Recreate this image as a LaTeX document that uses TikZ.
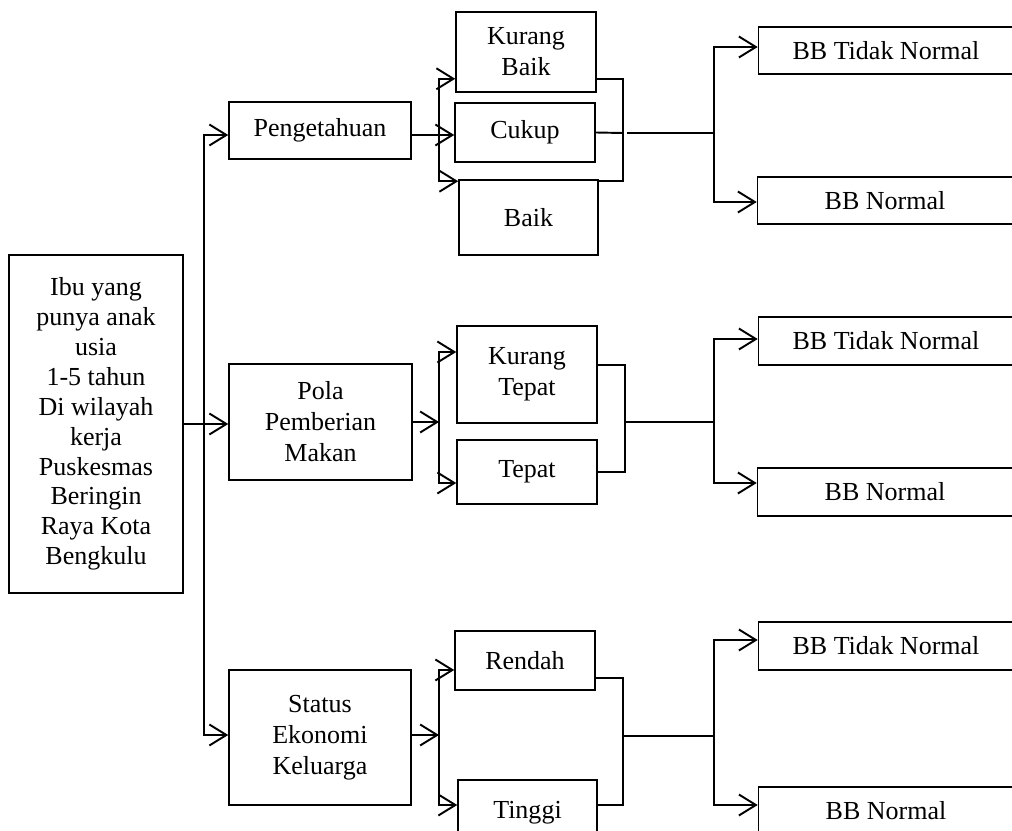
\documentclass[tikz,border=0pt]{standalone}
\usepackage{fontspec}
\setmainfont{Liberation Serif}
\usetikzlibrary{arrows.meta}
\tikzset{
  kotak/.style={draw, line width=0.9pt, align=center, inner sep=0pt, font=\fontsize{14.8}{17.6}\selectfont},
  hasil/.style={kotak, minimum width=5.1cm, minimum height=0.95cm},
}
\begin{document}
\begin{tikzpicture}[x=0.02cm, y=-0.02cm, line width=1.1pt, >={Straight Barb[length=3.4mm,width=4.2mm]}]
  \useasboundingbox (0,0) rectangle (1012,831);
  \clip (0,0) rectangle (1012,831);
  \path (96,424) node[kotak, minimum width=3.48cm, minimum height=6.76cm, font=\fontsize{14.8}{17}\selectfont](ibu){Ibu yang\\punya anak\\usia\\1-5 tahun\\Di wilayah\\kerja\\Puskesmas\\Beringin\\Raya Kota\\Bengkulu};
  \path (320,130.5) node[kotak, minimum width=3.64cm, minimum height=1.14cm](tahu){Pengetahuan};
  \path (320.5,422) node[kotak, minimum width=3.66cm, minimum height=2.32cm](pola){Pola\\Pemberian\\Makan};
  \path (320,737.5) node[kotak, minimum width=3.64cm, minimum height=2.7cm](status){Status\\Ekonomi\\Keluarga};
  % kategori
  \path (526,52) node[kotak, minimum width=2.8cm, minimum height=1.6cm](kbaik){Kurang\\Baik};
  \path (525,132.5) node[kotak, minimum width=2.8cm, minimum height=1.18cm](cukup){Cukup};
  \path (528.5,217.5) node[kotak, minimum width=2.78cm, minimum height=1.5cm](baik){Baik};
  \path (527,374.5) node[kotak, minimum width=2.8cm, minimum height=1.94cm](ktepat){Kurang\\Tepat};
  \path (527,472) node[kotak, minimum width=2.8cm, minimum height=1.28cm](tepat){Tepat};
  \path (525,660.5) node[kotak, minimum width=2.8cm, minimum height=1.18cm](rendah){Rendah};
  \path (527.5,812.5) node[kotak, minimum width=2.78cm, minimum height=1.3cm](tinggi){Tinggi};
  % hasil
  \path (886,50.5) node[hasil](tdk1){BB Tidak Normal};
  \path (885,200.5) node[hasil](nor1){BB Normal};
  \path (886,341) node[hasil](tdk2){BB Tidak Normal};
  \path (885,492) node[hasil](nor2){BB Normal};
  \path (886,646) node[hasil](tdk3){BB Tidak Normal};
  \path (886,811) node[hasil](nor3){BB Normal};
  % dari kotak utama
  \coordinate (c1) at (204,424);
  \draw[->] (ibu.east) -- (pola.west |- ibu.east);
  \draw[->] (c1) |- ([yshift=-0.09cm]tahu.west);
  \draw[->] (c1) |- ([yshift=0.05cm]status.west);
  % pengetahuan
  \coordinate (c2) at (439,135);
  \coordinate (c3) at (623,133);
  \coordinate (c4) at (714,133);
  \draw[->] ([yshift=-0.09cm]tahu.east) -- (cukup.west |- c2);
  \draw[->] (c2) |- ([yshift=0.28cm]kbaik.south west);
  \draw[->] (c2) |- ([yshift=-0.04cm]baik.north west);
  \draw ([yshift=0.28cm]kbaik.south east) -| (c3) |- ([yshift=-0.04cm]baik.north east);
  \draw (cukup.east) -- (c3);
  \draw ([xshift=0.08cm]c3) -- (c4);
  \draw[->] (c4) |- ([yshift=0.07cm]tdk1.west);
  \draw[->] (c4) |- ([yshift=-0.03cm]nor1.west);
  % pola pemberian makan
  \coordinate (c5) at (439,422);
  \coordinate (c6) at (625,422);
  \coordinate (c7) at (714,422);
  \draw[->] (pola.east) -- (c5);
  \draw[->] (c5) |- ([yshift=0.45cm]ktepat.west);
  \draw[->] (c5) |- ([yshift=-0.22cm]tepat.west);
  \draw ([yshift=0.19cm]ktepat.east) -| (c6) |- (tepat.east);
  \draw (c6) -- (c7);
  \draw[->] (c7) |- ([yshift=0.04cm]tdk2.west);
  \draw[->] (c7) |- ([yshift=0.18cm]nor2.west);
  % status ekonomi
  \coordinate (c8) at (439,735);
  \coordinate (c9) at (623,736);
  \coordinate (c10) at (714,736);
  \draw[->] ([yshift=0.05cm]status.east) -- (c8);
  \draw[->] (c8) |- ([yshift=-0.19cm]rendah.west);
  \draw[->] (c8) |- ([yshift=0.15cm]tinggi.west);
  \draw ([yshift=-0.35cm]rendah.east) -| (c9) |- ([yshift=0.15cm]tinggi.east);
  \draw (c9) -- (c10);
  \draw[->] (c10) |- ([yshift=0.12cm]tdk3.west);
  \draw[->] (c10) |- ([yshift=0.12cm]nor3.west);
\end{tikzpicture}
\end{document}
